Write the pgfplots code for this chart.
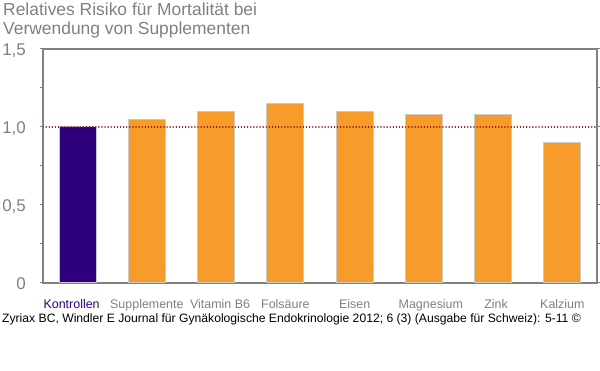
\documentclass[border=0pt]{standalone}
\usepackage{pgfplots}
\pgfplotsset{compat=1.18}
\usepackage{fontspec}
\setmainfont{Liberation Sans}
\definecolor{orangebar}{RGB}{247,156,42}
\definecolor{purplebar}{RGB}{46,0,126}
\definecolor{axisgray}{RGB}{128,128,128}
\definecolor{textgray}{RGB}{128,128,128}
\definecolor{bordergray}{RGB}{205,200,195}
\definecolor{dotred}{RGB}{140,20,20}
\begin{document}
\begin{tikzpicture}
\useasboundingbox (0,0) rectangle (600bp,371bp);
\node[anchor=base west, text=textgray, font=\fontsize{17.5}{20}\selectfont, inner sep=0pt] at (3bp,355bp) {Relatives Risiko für Mortalität bei};
\node[anchor=base west, text=textgray, font=\fontsize{17.5}{20}\selectfont, inner sep=0pt] at (3bp,336bp) {Verwendung von Supplementen};
\node[anchor=base west, text=black, font=\fontsize{12.2}{14}\selectfont, inner sep=0pt] at (2bp,48bp) {Zyriax BC, Windler E Journal für Gynäkologische Endokrinologie 2012; 6 (3) (Ausgabe für Schweiz): 5-11 ©};
\begin{axis}[
  at={(43bp,88bp)}, anchor=south west,
  scale only axis, width=554bp, height=234bp,
  xmin=-0.5, xmax=7.5, ymin=0, ymax=1.5,
  axis line style={draw=axisgray, line width=1.3bp},
  xtick={0,1,2,3,4,5,6,7},
  xticklabels={\hspace*{-12bp}\textcolor{purplebar}{Kontrollen}, Supplemente, \hspace*{8bp}Vitamin B6, Folsäure, Eisen, \hspace*{14bp}Magnesium, \hspace*{6bp}Zink, Kalzium},
  xtick style={draw=none},
  xticklabel style={text=textgray, font=\fontsize{12.5}{14}\selectfont, anchor=base, inner sep=0pt, yshift=-22bp},
  ytick={0,0.5,1,1.5},
  yticklabels={0,{0,5},{1,0},{1,5}},
  minor y tick num=1,
  tick align=outside,
  major tick length=3bp, minor tick length=3bp,
  ytick style={draw=axisgray, line width=1bp},
  yticklabel style={text=textgray, font=\fontsize{17}{19}\selectfont, anchor=base east, inner sep=0pt, xshift=-14bp, yshift=-7bp},
  ybar, bar width=37bp, bar shift=0pt,
]
\addplot[fill=purplebar, draw=bordergray, line width=1bp] coordinates {(0,1.0)};
\addplot[fill=orangebar, draw=bordergray, line width=1bp] coordinates {(1,1.05) (2,1.10) (3,1.15) (4,1.10) (5,1.08) (6,1.08) (7,0.90)};
\addplot[sharp plot, draw=dotred, line width=1.5bp, line cap=round, dash pattern=on 0.1bp off 3bp] coordinates {(-0.5,1) (7.5,1)};
\end{axis}
\end{tikzpicture}
\end{document}
